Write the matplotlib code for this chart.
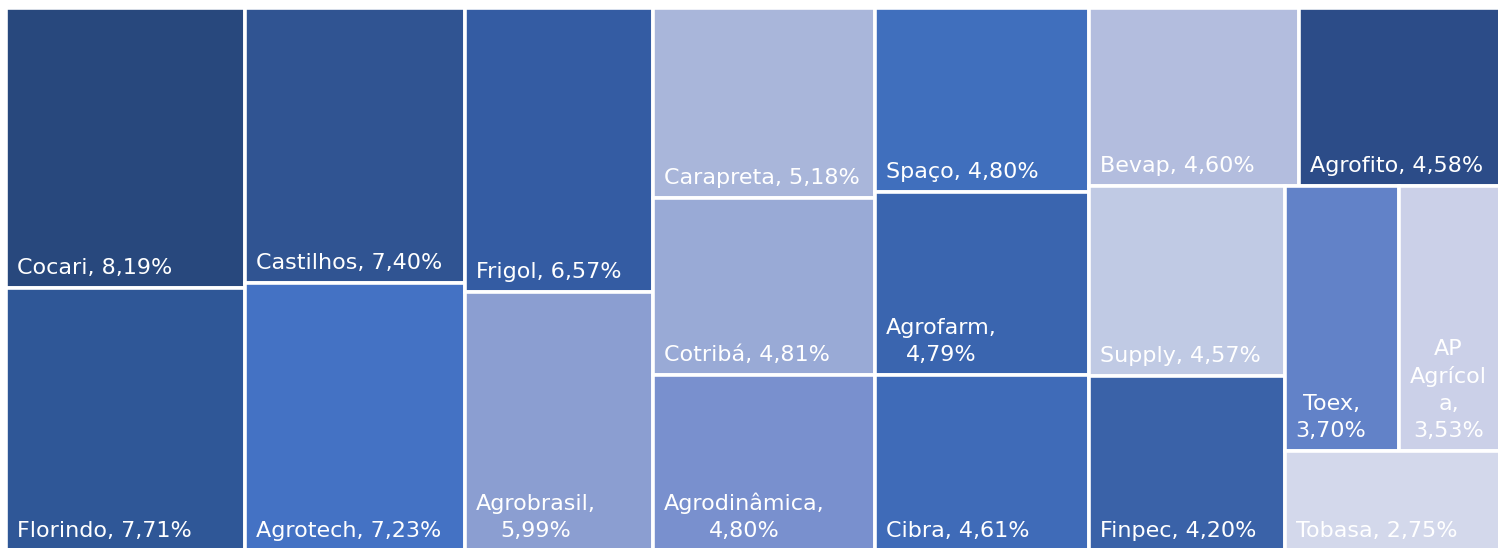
import matplotlib
matplotlib.use("Agg")
import matplotlib.pyplot as plt
from matplotlib.patches import Rectangle

# ---- data ----
names = ["Cocari", "Florindo", "Castilhos", "Agrotech", "Frigol", "Agrobrasil",
         "Carapreta", "Cotribá", "Agrodinâmica", "Spaço", "Agrofarm", "Cibra",
         "Bevap", "Agrofito", "Supply", "Finpec", "Toex", "AP Agrícola", "Tobasa"]
values = [8.19, 7.71, 7.40, 7.23, 6.57, 5.99,
          5.18, 4.81, 4.80, 4.80, 4.79, 4.61,
          4.60, 4.58, 4.57, 4.20, 3.70, 3.53, 2.75]
labels = ["Cocari, 8,19%", "Florindo, 7,71%", "Castilhos, 7,40%", "Agrotech, 7,23%",
          "Frigol, 6,57%", "Agrobrasil,\n5,99%", "Carapreta, 5,18%", "Cotribá, 4,81%",
          "Agrodinâmica,\n4,80%", "Spaço, 4,80%", "Agrofarm,\n4,79%", "Cibra, 4,61%",
          "Bevap, 4,60%", "Agrofito, 4,58%", "Supply, 4,57%", "Finpec, 4,20%",
          "Toex,\n3,70%", "AP\nAgrícol\na,\n3,53%", "Tobasa, 2,75%"]
colors = ["#28487D", "#2F5797", "#305492", "#4472C4", "#345CA3", "#8B9ED1",
          "#A9B6DA", "#99AAD6", "#7990CE", "#406FBD", "#3A65AF", "#3F6BB8",
          "#B3BDDE", "#2C4C88", "#C0CAE4", "#3A62A8", "#6282C8", "#CBD0E8", "#D3D8EB"]
# number of cells in each squarified strip
strip_sizes = [2, 2, 2, 3, 3, 2, 2, 2, 1]

# ---- layout (squarified strips) ----
X0, Y0, W, H = 6.0, 8.0, 1502.0, 543.0
rects = []
x, y, w, h = X0, Y0, W, H
remaining = sum(values)
i = 0
for n in strip_sizes:
    group = values[i:i + n]
    s = sum(group)
    if w >= h:
        sw = w * s / remaining
        cy = y
        for v in group:
            ch = h * v / s
            rects.append((x, cy, sw, ch))
            cy += ch
        x += sw
        w -= sw
    else:
        sh = h * s / remaining
        cx = x
        for v in group:
            cw = w * v / s
            rects.append((cx, y, cw, sh))
            cx += cw
        y += sh
        h -= sh
    remaining -= s
    i += n

fig = plt.figure(figsize=(14.98, 5.48), dpi=100)
ax = fig.add_axes([0, 0, 1, 1])
ax.set_xlim(0, 1498)
ax.set_ylim(548, 0)
ax.axis("off")

for (rx, ry, rw, rh), c, lab in zip(rects, colors, labels):
    ax.add_patch(Rectangle((rx, ry), rw, rh, facecolor=c, edgecolor="white",
                           linewidth=2.6))
    ax.text(rx + 11, ry + rh - 14, lab, color="white", fontsize=16,
            family="DejaVu Sans", ha="left", va="baseline",
            multialignment="center", linespacing=1.42)

fig.savefig("out.png", dpi=100)
